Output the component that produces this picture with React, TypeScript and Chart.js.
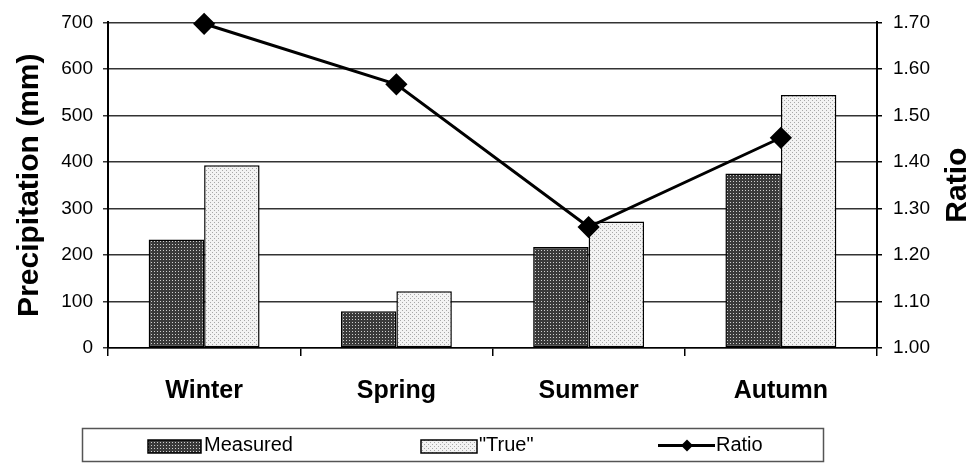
import React, { useEffect, useRef } from "react";
import { Chart, registerables } from "chart.js";

Chart.register(...registerables);

const categories = ["Winter", "Spring", "Summer", "Autumn"];
const measured = [233, 79, 217, 375];
const trueValues = [393, 122, 272, 544];
const ratio = [1.697, 1.567, 1.26, 1.452];
const leftTitle = "Precipitation (mm)";
const rightTitle = "Ratio";
const legendLabels = ["Measured", "\"True\"", "Ratio"];

const FONT = "'Liberation Sans', Arial, sans-serif";

function makePattern(bg: string, dot: string, size: number, dots: number[][]) {
  const c = document.createElement("canvas");
  c.width = size;
  c.height = size;
  const x = c.getContext("2d")!;
  x.fillStyle = bg;
  x.fillRect(0, 0, size, size);
  x.fillStyle = dot;
  for (const [a, b] of dots) x.fillRect(a, b, 1, 1);
  const ctx = document.createElement("canvas").getContext("2d")!;
  return ctx.createPattern(c, "repeat") as CanvasPattern;
}

export default function App() {
  const ref = useRef<HTMLCanvasElement>(null);
  useEffect(() => {
    document.body.style.margin = "0";
    const darkPat = makePattern("#3a3a3a", "#cfcfcf", 3, [[1, 1]]);
    const lightPat = makePattern("#f3f3f3", "#a8a8a8", 4, [[0, 0], [2, 2]]);

    const overlay = {
      id: "overlay",
      afterDraw(chart: any) {
        const ctx = chart.ctx as CanvasRenderingContext2D;
        const ca = chart.chartArea;
        ctx.save();
        ctx.fillStyle = "#000";
        ctx.font = `bold 30px ${FONT}`;
        ctx.textAlign = "center";
        ctx.textBaseline = "middle";
        const cy = (ca.top + ca.bottom) / 2;
        ctx.save();
        ctx.translate(30, cy);
        ctx.rotate(-Math.PI / 2);
        ctx.fillText(leftTitle, 0, 0);
        ctx.restore();
        ctx.save();
        ctx.translate(958, cy);
        ctx.rotate(-Math.PI / 2);
        ctx.fillText(rightTitle, 0, 0);
        ctx.restore();

        // legend box
        ctx.strokeStyle = "#555";
        ctx.lineWidth = 1.5;
        ctx.strokeRect(82.5, 428.5, 741, 33);
        const ly = 445.5;
        ctx.font = `20px ${FONT}`;
        ctx.textAlign = "left";
        ctx.textBaseline = "middle";
        // Measured
        ctx.fillStyle = darkPat;
        ctx.fillRect(148, 440, 53, 13);
        ctx.strokeStyle = "#000";
        ctx.lineWidth = 1.5;
        ctx.strokeRect(148, 440, 53, 13);
        ctx.fillStyle = "#000";
        ctx.fillText(legendLabels[0], 204, ly);
        // True
        ctx.fillStyle = lightPat;
        ctx.fillRect(421, 440, 56, 13);
        ctx.strokeRect(421, 440, 56, 13);
        ctx.fillStyle = "#000";
        ctx.fillText(legendLabels[1], 479, ly);
        // Ratio
        ctx.lineWidth = 3;
        ctx.beginPath();
        ctx.moveTo(658, ly);
        ctx.lineTo(715, ly);
        ctx.stroke();
        ctx.beginPath();
        ctx.moveTo(687, ly - 6);
        ctx.lineTo(693, ly);
        ctx.lineTo(687, ly + 6);
        ctx.lineTo(681, ly);
        ctx.closePath();
        ctx.fill();
        ctx.fillText(legendLabels[2], 716, ly);
        ctx.restore();
      },
    };

    const chart = new Chart(ref.current!, {
      type: "bar",
      data: {
        labels: categories,
        datasets: [
          {
            type: "line",
            label: legendLabels[2],
            data: ratio,
            yAxisID: "y1",
            borderColor: "#000",
            backgroundColor: "#000",
            borderWidth: 3,
            pointStyle: "rectRot",
            pointRadius: 9,
            pointBackgroundColor: "#000",
            pointBorderColor: "#000",
            clip: false,
            order: 0,
          } as any,
          {
            label: legendLabels[0],
            data: measured,
            yAxisID: "y",
            backgroundColor: darkPat as any,
            borderColor: "#000",
            borderWidth: 1.5,
            borderSkipped: false,
            categoryPercentage: 0.577,
            barPercentage: 1,
            order: 1,
          },
          {
            label: legendLabels[1],
            data: trueValues,
            yAxisID: "y",
            backgroundColor: lightPat as any,
            borderColor: "#000",
            borderWidth: 1.5,
            borderSkipped: false,
            categoryPercentage: 0.577,
            barPercentage: 1,
            order: 1,
          },
        ],
      },
      options: {
        responsive: false,
        animation: false,
        devicePixelRatio: 1,
        layout: { padding: { top: 21, left: 0, right: 0, bottom: 0 } },
        plugins: { legend: { display: false }, tooltip: { enabled: false } },
        scales: {
          x: {
            offset: true,
            grid: { display: true, drawOnChartArea: false, offset: true, tickLength: 8, color: "#000", lineWidth: 1.5 },
            border: { display: true, color: "#000", width: 1.5 },
            ticks: { color: "#000", font: { family: FONT, size: 25, weight: "bold" }, padding: 20 },
            afterFit: (s: any) => { s.height = 115; },
          },
          y: {
            position: "left",
            min: 0,
            max: 700,
            ticks: { stepSize: 100, color: "#000", font: { family: FONT, size: 19 }, padding: 10 },
            grid: { color: "#333", lineWidth: 1.5, tickLength: 5 },
            border: { display: true, color: "#000", width: 2 },
            afterFit: (s: any) => { s.width = 108; },
          },
          y1: {
            position: "right",
            min: 1.0,
            max: 1.7,
            ticks: { stepSize: 0.1, color: "#000", font: { family: FONT, size: 19 }, padding: 11, callback: (v: any) => Number(v).toFixed(2) },
            grid: { drawOnChartArea: false, color: "#000", lineWidth: 1.5, tickLength: 5 },
            border: { display: true, color: "#000", width: 2 },
            afterFit: (s: any) => { s.width = 96; },
          },
        },
      },
      plugins: [overlay],
    });
    return () => chart.destroy();
  }, []);
  return (
    <div style={{ width: 973, height: 463 }}>
      <canvas ref={ref} width={973} height={463} />
    </div>
  );
}
